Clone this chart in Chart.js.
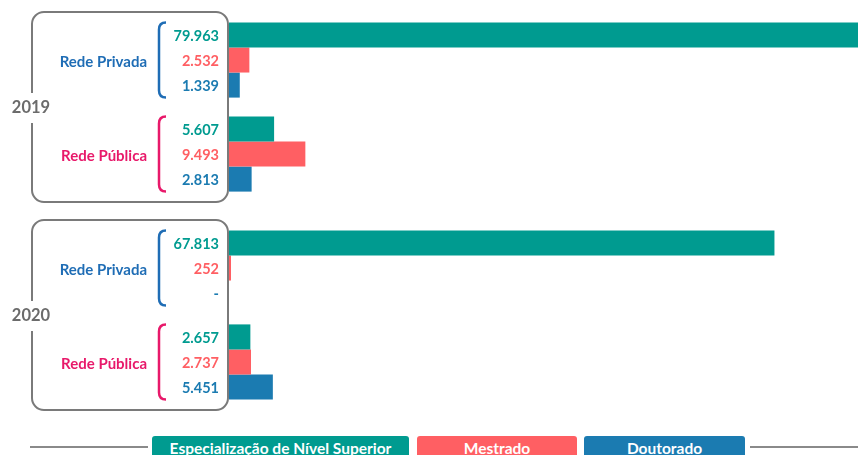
<!DOCTYPE html>
<html>
<head>
<meta charset="utf-8">
<script src="https://cdn.jsdelivr.net/npm/chart.js@4.4.1/dist/chart.umd.min.js"></script>
<style>
  html, body { margin: 0; padding: 0; background: #fff; }
  body { width: 858px; height: 455px; overflow: hidden; position: relative; font-family: Lato, sans-serif; }
  .year { position: absolute; left: 0; width: 858px; height: 212px; }
  #y2019 { top: 0; }
  #y2020 { top: 208px; }
  #legenda { position: absolute; left: 30px; right: 0; top: 436px; display: flex; align-items: flex-start; }
  #legenda .linha { height: 2px; background: #8a8a8a; margin-top: 10px; }
  #legenda .caixa { height: 24px; line-height: 24px; color: #fff; font-weight: bold; font-size: 15.5px;
    text-align: center; border-radius: 3px 3px 0 0; white-space: nowrap; }
</style>
</head>
<body>
<div class="year" id="y2019"><canvas id="chart-2019"></canvas></div>
<div class="year" id="y2020"><canvas id="chart-2020"></canvas></div>
<div id="legenda"></div>

<script>
// dados
const anos = ['2019', '2020'];
const redes = ['Rede Privada', 'Rede Pública'];
const cursos = ['Especialização de Nível Superior', 'Mestrado', 'Doutorado'];

const esp2019 = [79963, 5607];
const mest2019 = [2532, 9493];
const dout2019 = [1339, 2813];

const esp2020 = [67813, 2657];
const mest2020 = [252, 2737];
const dout2020 = [0, 5451];

const xMax = 78200;

// cores
const corCurso = ['#009b90', '#ff5f63', '#1b7bb1'];
const corRede = ['#1f6db5', '#e8196a'];
const larguraLegenda = [257, 160, 161];

function formata(v){
    if (!v) return '-';
    return v.toLocaleString('de-DE');
}

// plugin pra caixa, ano, chaves, nomes e numeros
const enfeite = {
    id: 'enfeite',
    beforeDatasetsDraw(chart, args, opts){
        const ctx = chart.ctx;
        const a = chart.chartArea;
        const left = 32, right = a.left - 1, top = a.top - 1, bottom = a.bottom + 1, r = 12;

        ctx.save();
        ctx.strokeStyle = '#7a7a7a';
        ctx.lineWidth = 2;
        ctx.beginPath();
        ctx.roundRect(left, top, right - left, bottom - top, r);
        ctx.stroke();

        // ano por cima da borda
        const meio = (top + bottom) / 2 + 1;
        ctx.fillStyle = '#fff';
        ctx.fillRect(left - 4, meio - 15, 8, 30);
        ctx.font = 'bold 16.5px Lato';
        ctx.fillStyle = '#6b6b6b';
        ctx.textAlign = 'center';
        ctx.textBaseline = 'middle';
        ctx.fillText(opts.ano, left - 1, meio);

        // nome da rede
        const yScale = chart.scales.y;
        ctx.font = 'bold 15px Lato';
        ctx.textAlign = 'right';
        chart.data.labels.forEach((lb, i) => {
            ctx.fillStyle = corRede[i];
            ctx.fillText(lb, a.left - 82, yScale.getPixelForValue(i) + 2);
        });

        // chaves
        const m0 = chart.getDatasetMeta(0).data;
        const m2 = chart.getDatasetMeta(2).data;
        ctx.lineWidth = 2.5;
        for (let i = 0; i < m0.length; i++){
            const t = m0[i].y - m0[i].height / 2;
            const b = m2[i].y + m2[i].height / 2;
            const bx = a.left - 70;
            ctx.strokeStyle = corRede[i];
            ctx.beginPath();
            ctx.moveTo(bx + 7, t);
            ctx.quadraticCurveTo(bx, t, bx, t + 7);
            ctx.lineTo(bx, b - 7);
            ctx.quadraticCurveTo(bx, b, bx + 7, b);
            ctx.stroke();
        }
        ctx.restore();
    },
    afterDatasetsDraw(chart){
        const ctx = chart.ctx;
        const a = chart.chartArea;
        ctx.save();
        ctx.font = 'bold 14.5px Lato';
        ctx.textAlign = 'right';
        ctx.textBaseline = 'middle';
        chart.data.datasets.forEach((ds, d) => {
            chart.getDatasetMeta(d).data.forEach((bar, i) => {
                ctx.fillStyle = corCurso[d];
                ctx.fillText(formata(ds.data[i]), a.left - 10, bar.y + 1);
            });
        });
        ctx.restore();
    }
};

function bikinChart(id, ano, dados){
    return new Chart(document.getElementById(id), {
        type: 'bar',
        data: {
            labels: redes,
            datasets: cursos.map((c, d) => ({
                label: c,
                data: dados[d],
                backgroundColor: corCurso[d],
                categoryPercentage: 0.8,
                barPercentage: 1.0
            }))
        },
        options: {
            indexAxis: 'y',
            responsive: true,
            maintainAspectRatio: false,
            animation: false,
            layout: { padding: { top: 13, bottom: 11, left: 229, right: 0 } },
            scales: {
                x: { display: false, min: 0, max: xMax },
                y: { display: false }
            },
            plugins: {
                legend: { display: false },
                tooltip: { enabled: false },
                enfeite: { ano: ano }
            }
        },
        plugins: [enfeite]
    });
}

bikinChart('chart-2019', anos[0], [esp2019, mest2019, dout2019]);
bikinChart('chart-2020', anos[1], [esp2020, mest2020, dout2020]);

// legenda embaixo
const leg = document.getElementById('legenda');
let html = '<div class="linha" style="width:118px;margin-right:4px"></div>';
const gaps = [8, 7, 5];
cursos.forEach((c, i) => {
    html += '<div class="caixa" style="background:' + corCurso[i] + ';width:' + larguraLegenda[i] +
        'px;margin-right:' + gaps[i] + 'px">' + c + '</div>';
});
html += '<div class="linha" style="flex:1"></div>';
leg.innerHTML = html;
</script>
</body>
</html>
